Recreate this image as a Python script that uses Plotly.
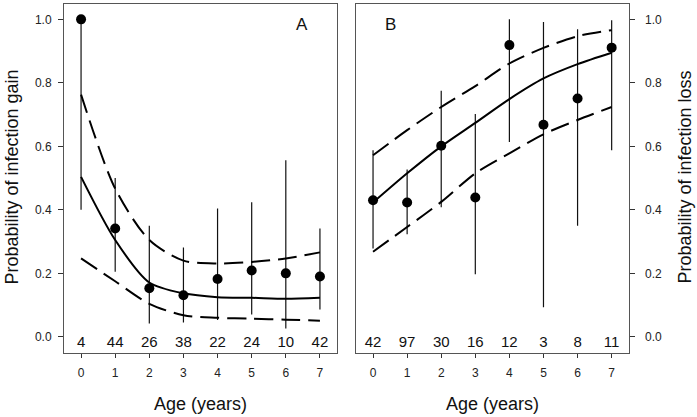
import plotly.graph_objects as go

# ---------------- data ----------------
ages = [0, 1, 2, 3, 4, 5, 6, 7]

# Panel A: infection gain
gain_obs = [1.0, 0.341, 0.153, 0.131, 0.182, 0.209, 0.200, 0.190]
gain_hi = [1.0, 0.50, 0.35, 0.281, 0.404, 0.424, 0.556, 0.341]
gain_lo = [0.40, 0.205, 0.042, 0.045, 0.053, 0.070, 0.026, 0.086]
gain_fit = [0.504, 0.305, 0.171, 0.137, 0.125, 0.123, 0.120, 0.123]
gain_fit_hi = [0.763, 0.467, 0.305, 0.240, 0.231, 0.236, 0.247, 0.266]
gain_fit_lo = [0.247, 0.175, 0.104, 0.068, 0.060, 0.057, 0.054, 0.051]
gain_n = ["4", "44", "26", "38", "22", "24", "10", "42"]

# Panel B: infection loss
loss_obs = [0.430, 0.423, 0.602, 0.439, 0.919, 0.668, 0.751, 0.911]
loss_hi = [0.588, 0.527, 0.775, 0.702, 1.0, 0.992, 0.969, 0.997]
loss_lo = [0.278, 0.323, 0.408, 0.197, 0.614, 0.093, 0.350, 0.588]
loss_fit = [0.423, 0.515, 0.600, 0.674, 0.749, 0.814, 0.859, 0.895]
loss_fit_hi = [0.572, 0.651, 0.724, 0.790, 0.861, 0.910, 0.947, 0.966]
loss_fit_lo = [0.268, 0.346, 0.425, 0.515, 0.578, 0.638, 0.683, 0.724]
loss_n = ["42", "97", "30", "16", "12", "3", "8", "11"]

n_label_y = -0.02
y_ticks = [0.0, 0.2, 0.4, 0.6, 0.8, 1.0]

# ---------------- figure ----------------
W, H = 697, 417
FONT = "Arial, Liberation Sans, sans-serif"
fig = go.Figure()


def add_panel(xa, ya, obs, hi, lo, fit, fhi, flo, nlab):
    eplus = [h - o for h, o in zip(hi, obs)]
    eminus = [o - l for o, l in zip(obs, lo)]
    fig.add_trace(go.Scatter(
        x=ages, y=obs, mode="markers", xaxis=xa, yaxis=ya,
        marker=dict(color="black", size=10),
        error_y=dict(type="data", array=eplus, arrayminus=eminus,
                     width=0, thickness=1.2, color="#111"),
        showlegend=False))
    fig.add_trace(go.Scatter(
        x=ages, y=fit, mode="lines", xaxis=xa, yaxis=ya,
        line=dict(color="black", width=2, shape="spline", smoothing=0.8),
        showlegend=False))
    for ser in (fhi, flo):
        fig.add_trace(go.Scatter(
            x=ages, y=ser, mode="lines", xaxis=xa, yaxis=ya,
            line=dict(color="black", width=2, shape="spline", smoothing=0.8,
                      dash="19px,8px"),
            showlegend=False))
    fig.add_trace(go.Scatter(
        x=ages, y=[n_label_y] * len(ages), mode="text", text=nlab,
        textposition="middle center", xaxis=xa, yaxis=ya,
        textfont=dict(family=FONT, size=15, color="#111"), showlegend=False))


add_panel("x", "y", gain_obs, gain_hi, gain_lo, gain_fit, gain_fit_hi,
          gain_fit_lo, gain_n)
add_panel("x2", "y2", loss_obs, loss_hi, loss_lo, loss_fit, loss_fit_hi,
          loss_fit_lo, loss_n)

ydom = [1 - 352.7 / H, 1 - 3.5 / H]
xcommon = dict(range=[-0.5, 7.5], tickvals=ages, ticks="outside", ticklen=4,
               tickcolor="#333", showline=True, linecolor="#555", linewidth=1,
               mirror=True, showgrid=False, zeroline=False,
               tickfont=dict(family=FONT, size=12, color="#222"),
               ticklabelstandoff=5)
ycommon = dict(range=[-0.05, 1.05], tickvals=y_ticks, tickformat=".1f",
               ticks="outside", ticklen=5, tickcolor="#333", showline=True,
               linecolor="#555", linewidth=1, mirror=True, showgrid=False,
               zeroline=False, tickfont=dict(family=FONT, size=12, color="#222"))

fig.update_layout(
    width=W, height=H, margin=dict(l=0, r=0, t=0, b=0),
    paper_bgcolor="white", plot_bgcolor="white",
    xaxis=dict(domain=[64 / W, 337 / W], anchor="y", **xcommon),
    xaxis2=dict(domain=[356 / W, 628.7 / W], anchor="y2", **xcommon),
    yaxis=dict(domain=ydom, anchor="x", side="left", ticklabelstandoff=4, **ycommon),
    yaxis2=dict(domain=ydom, anchor="x2", side="right", ticklabelstandoff=8, **ycommon),
)

ann = dict(xref="paper", yref="paper", showarrow=False)
fig.add_annotation(text="Age (years)", x=200.3 / W, y=1 - 404 / H,
                   xanchor="center", yanchor="middle",
                   font=dict(family=FONT, size=18, color="#111"), **ann)
fig.add_annotation(text="Age (years)", x=492.5 / W, y=1 - 404 / H,
                   xanchor="center", yanchor="middle",
                   font=dict(family=FONT, size=18, color="#111"), **ann)
fig.add_annotation(text="Probability of infection gain", x=11 / W,
                   y=1 - 177.5 / H, textangle=-90, xanchor="center",
                   yanchor="middle", font=dict(family=FONT, size=18, color="#111"), **ann)
fig.add_annotation(text="Probability of infection loss", x=684 / W,
                   y=1 - 177.5 / H, textangle=-90, xanchor="center",
                   yanchor="middle", font=dict(family=FONT, size=18, color="#111"), **ann)
fig.add_annotation(text="A", x=301.5 / W, y=1 - 24.5 / H, xanchor="center",
                   yanchor="middle", font=dict(family=FONT, size=17, color="#111"), **ann)
fig.add_annotation(text="B", x=390.7 / W, y=1 - 24.5 / H, xanchor="center",
                   yanchor="middle", font=dict(family=FONT, size=17, color="#111"), **ann)

fig.write_html("out.html", config={"displayModeBar": False},
               post_script="document.body.style.margin='0px';"
                           "document.body.style.overflow='hidden';")
